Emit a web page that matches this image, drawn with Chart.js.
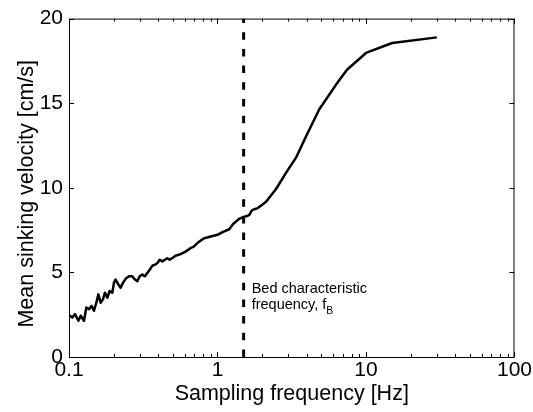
<!DOCTYPE html>
<html>
<head>
<meta charset="utf-8">
<script src="https://cdn.jsdelivr.net/npm/chart.js@4.4.0/dist/chart.umd.min.js"></script>
<style>
  html, body { margin: 0; padding: 0; background: #fff; }
  #wrap { width: 533px; height: 412px; }
</style>
</head>
<body>
<div id="wrap"><canvas id="chart"></canvas></div>
<script>
// sampling frequency (Hz) and mean sinking velocity (cm/s)
const freqs = [
  0.1, 0.1053, 0.1097, 0.1157, 0.1199, 0.1261, 0.1309, 0.1363, 0.1421, 0.1472,
  0.1528, 0.1576, 0.1633, 0.1693, 0.1746, 0.1812, 0.1877, 0.1958, 0.2007, 0.206,
  0.2147, 0.2226, 0.2308, 0.2405, 0.2532, 0.2667, 0.2778, 0.2884, 0.2992, 0.3117,
  0.3244, 0.3369, 0.3495, 0.3645, 0.3794, 0.3937, 0.4078, 0.4248, 0.4421, 0.4585,
  0.4756, 0.4953, 0.5213, 0.5491, 0.5775, 0.6084, 0.6338, 0.657, 0.692, 0.7286,
  0.7679, 0.8078, 0.84, 0.9, 1.0, 1.09, 1.2, 1.27, 1.35, 1.41,
  1.5, 1.58, 1.64, 1.7, 1.75, 1.87, 2.0, 2.13, 2.48, 2.9,
  3.38, 3.95, 4.85, 6.29, 7.45, 10, 15, 30
];
const velocity = [
  2.48, 2.34, 2.53, 2.14, 2.44, 2.14, 2.92, 2.83, 3.02, 2.73,
  3.21, 3.70, 3.21, 3.41, 3.80, 3.50, 3.90, 3.80, 4.38, 4.58,
  4.29, 4.09, 4.38, 4.62, 4.77, 4.77, 4.58, 4.48, 4.77, 4.87,
  4.77, 4.97, 5.16, 5.40, 5.45, 5.55, 5.75, 5.65, 5.75, 5.84,
  5.75, 5.84, 5.98, 6.04, 6.13, 6.23, 6.33, 6.43, 6.52, 6.72,
  6.87, 7.01, 7.05, 7.12, 7.22, 7.40, 7.55, 7.85, 8.05, 8.18,
  8.28, 8.33, 8.40, 8.65, 8.72, 8.80, 9.00, 9.19, 9.93, 10.9,
  11.78, 13.05, 14.64, 16.1, 16.98, 17.97, 18.56, 18.89
];
const xTicks = [0.1, 1, 10, 100];
const yTicks = [0, 5, 10, 15, 20];
const bedFreq = 1.5;
const bedLabel = ['Bed characteristic', 'frequency, f'];
const bedSub = 'B';

const FONT = "'Liberation Sans', Arial, sans-serif";

// box around the plot with inward ticks on all four sides (matlab style)
const boxTicks = {
  id: 'boxTicks',
  afterDatasetsDraw(chart) {
    const { ctx, chartArea: a, scales } = chart;
    const x = scales.x, y = scales.y;
    ctx.save();
    ctx.strokeStyle = '#000';
    ctx.lineWidth = 1;
    ctx.strokeRect(a.left + 0.5, a.top + 0.5, a.right - a.left - 1, a.bottom - a.top);
    ctx.beginPath();
    for (let d = 0.1; d < 100; d *= 10) {
      for (let m = 1; m <= 10; m++) {
        const v = d * m;
        if (v > 100.0001) continue;
        const px = Math.round(x.getPixelForValue(v)) + 0.5;
        const len = (m === 1 || m === 10) ? 5 : 3;
        ctx.moveTo(px, a.bottom); ctx.lineTo(px, a.bottom - len);
        ctx.moveTo(px, a.top); ctx.lineTo(px, a.top + len);
      }
    }
    yTicks.forEach(v => {
      const py = Math.round(y.getPixelForValue(v)) + 0.5;
      ctx.moveTo(a.left, py); ctx.lineTo(a.left + 5, py);
      ctx.moveTo(a.right, py); ctx.lineTo(a.right - 5, py);
    });
    ctx.stroke();

    // annotation next to the dashed line
    const tx = x.getPixelForValue(bedFreq) + 8;
    const ty = y.getPixelForValue(4);
    ctx.fillStyle = '#000';
    ctx.font = '14.5px ' + FONT;
    ctx.textBaseline = 'middle';
    ctx.fillText(bedLabel[0], tx, ty);
    ctx.fillText(bedLabel[1], tx, ty + 16);
    const w = ctx.measureText(bedLabel[1]).width;
    ctx.font = '10.5px ' + FONT;
    ctx.fillText(bedSub, tx + w, ty + 22);
    ctx.restore();
  }
};

new Chart(document.getElementById('chart'), {
  type: 'line',
  data: {
    datasets: [
      {
        data: freqs.map((f, i) => ({ x: f, y: velocity[i] })),
        borderColor: '#000',
        borderWidth: 2.5,
        pointRadius: 0,
        tension: 0,
        borderJoinStyle: 'round'
      },
      {
        data: [{ x: bedFreq, y: 0 }, { x: bedFreq, y: 20 }],
        borderColor: '#000',
        borderWidth: 3,
        borderDash: [7.5, 9.2],
        pointRadius: 0
      }
    ]
  },
  plugins: [boxTicks],
  options: {
    responsive: true,
    maintainAspectRatio: false,
    animation: false,
    layout: { padding: { top: 14, right: 18, left: 0, bottom: 0 } },
    plugins: { legend: { display: false }, tooltip: { enabled: false } },
    scales: {
      x: {
        type: 'logarithmic',
        min: 0.1,
        max: 100,
        afterBuildTicks: s => { s.ticks = xTicks.map(v => ({ value: v })); },
        afterFit: s => { s.height = 55; },
        grid: { display: false, drawTicks: false },
        border: { display: false },
        ticks: {
          color: '#000',
          padding: 1,
          maxRotation: 0,
          font: { family: FONT, size: 21 },
          callback: v => String(v)
        },
        title: {
          display: true,
          text: 'Sampling frequency [Hz]',
          color: '#000',
          font: { family: FONT, size: 21.5 },
          padding: { top: 0, bottom: 5 }
        }
      },
      y: {
        min: 0,
        max: 20,
        afterBuildTicks: s => { s.ticks = yTicks.map(v => ({ value: v })); },
        afterFit: s => { s.width = 69; },
        grid: { display: false, drawTicks: false },
        border: { display: false },
        ticks: {
          color: '#000',
          padding: 6,
          font: { family: FONT, size: 21 }
        },
        title: {
          display: true,
          text: 'Mean sinking velocity [cm/s]\u00a0\u00a0',
          color: '#000',
          font: { family: FONT, size: 21.5 },
          padding: { top: 14, bottom: 0 }
        }
      }
    }
  }
});
</script>
</body>
</html>
